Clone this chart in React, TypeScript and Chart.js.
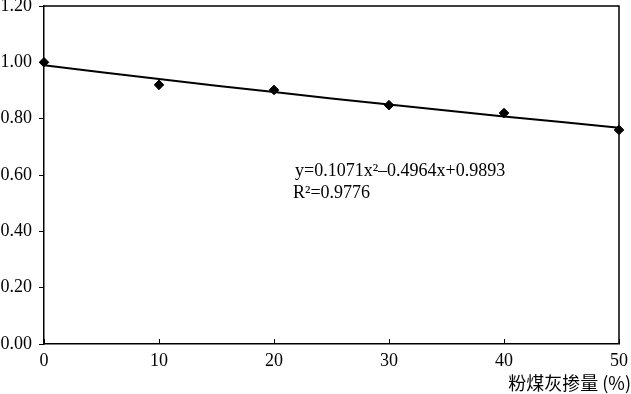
import React, { useEffect, useRef } from "react";
import { Chart, registerables } from "chart.js";

Chart.register(...registerables);

const xValues = [0, 10, 20, 30, 40, 50];
const measured = [1.0, 0.92, 0.902, 0.848, 0.82, 0.76];
const trendValues = [0.9893, 0.9407, 0.8943, 0.85, 0.8079, 0.7679];
const yTicks = [0, 0.2, 0.4, 0.6, 0.8, 1.0, 1.2];
const xTitle = "粉煤灰掺量 (%)";
const equationText = "y=0.1071x²–0.4964x+0.9893";
const r2Text = "R²=0.9776";

const SERIF = "'Liberation Serif', 'Times New Roman', serif";

const framePlugin = {
  id: "frameAndText",
  beforeDatasetsDraw(chart: any) {
    const { ctx, chartArea, scales } = chart;
    const xs = scales.x;
    ctx.save();
    ctx.strokeStyle = "#000";
    ctx.lineWidth = 1.5;
    ctx.beginPath();
    ctx.moveTo(chartArea.left, chartArea.top);
    ctx.lineTo(chartArea.right, chartArea.top);
    ctx.lineTo(chartArea.right, chartArea.bottom);
    ctx.stroke();
    // inward x ticks
    ctx.lineWidth = 1;
    ctx.beginPath();
    xValues.forEach((v) => {
      const px = Math.round(xs.getPixelForValue(v)) + 0.5;
      ctx.moveTo(px, chartArea.bottom);
      ctx.lineTo(px, chartArea.bottom - 5);
    });
    ctx.stroke();
    ctx.restore();
  },
  afterDraw(chart: any) {
    const { ctx } = chart;
    ctx.save();
    ctx.fillStyle = "#000";
    ctx.textBaseline = "middle";
    ctx.textAlign = "left";
    ctx.font = `18px ${SERIF}`;
    ctx.fillText(equationText, 295, 171);
    ctx.fillText(r2Text, 293, 193);
    ctx.textAlign = "right";
    ctx.font = `18px 'Noto Sans CJK SC', ${SERIF}`;
    ctx.fillText(xTitle, 631, 383);
    ctx.restore();
  },
};

export default function App() {
  const ref = useRef<HTMLCanvasElement | null>(null);
  useEffect(() => {
    document.body.style.margin = "0";
    const canvas = ref.current;
    if (!canvas) return;
    const chart = new Chart(canvas, {
      type: "scatter",
      data: {
        datasets: [
          {
            label: "trend",
            data: xValues.map((x, i) => ({ x, y: trendValues[i] })),
            showLine: true,
            borderColor: "#000",
            borderWidth: 2,
            pointRadius: 0,
            tension: 0.4,
          },
          {
            label: "measured",
            data: xValues.map((x, i) => ({ x, y: measured[i] })),
            showLine: false,
            clip: false,
            pointStyle: "rectRot",
            pointRadius: 4.8,
            backgroundColor: "#000",
            borderColor: "#000",
          },
        ],
      },
      options: {
        animation: false,
        responsive: false,
        devicePixelRatio: 1,
        layout: { padding: { top: 6, right: 12, left: 0, bottom: 0 } },
        plugins: { legend: { display: false }, tooltip: { enabled: false } },
        scales: {
          x: {
            type: "linear",
            min: 0,
            max: 50,
            afterBuildTicks: (s: any) => {
              s.ticks = xValues.map((v) => ({ value: v }));
            },
            afterFit: (s: any) => {
              s.height = 50;
              s.paddingLeft = 0;
              s.paddingRight = 0;
            },
            grid: { display: false, drawTicks: false },
            border: { display: true, color: "#000", width: 1.5 },
            ticks: {
              color: "#000",
              font: { family: SERIF, size: 18 },
              padding: 6,
              maxRotation: 0,
            },
          },
          y: {
            type: "linear",
            min: 0,
            max: 1.2,
            afterBuildTicks: (s: any) => {
              s.ticks = yTicks.map((v) => ({ value: v }));
            },
            afterFit: (s: any) => {
              s.width = 44;
              s.paddingTop = 0;
              s.paddingBottom = 0;
            },
            grid: {
              display: true,
              drawOnChartArea: false,
              drawTicks: true,
              tickLength: 5,
              color: "#000",
            },
            border: { display: true, color: "#000", width: 1.5 },
            ticks: {
              color: "#000",
              font: { family: SERIF, size: 18 },
              padding: 7,
              callback: (v: any) => Number(v).toFixed(2),
            },
          },
        },
      },
      plugins: [framePlugin],
    } as any);
    return () => chart.destroy();
  }, []);
  return (
    <div style={{ width: 631, height: 394, background: "#fff" }}>
      <canvas ref={ref} width={631} height={394} style={{ width: 631, height: 394, display: "block" }} />
    </div>
  );
}
